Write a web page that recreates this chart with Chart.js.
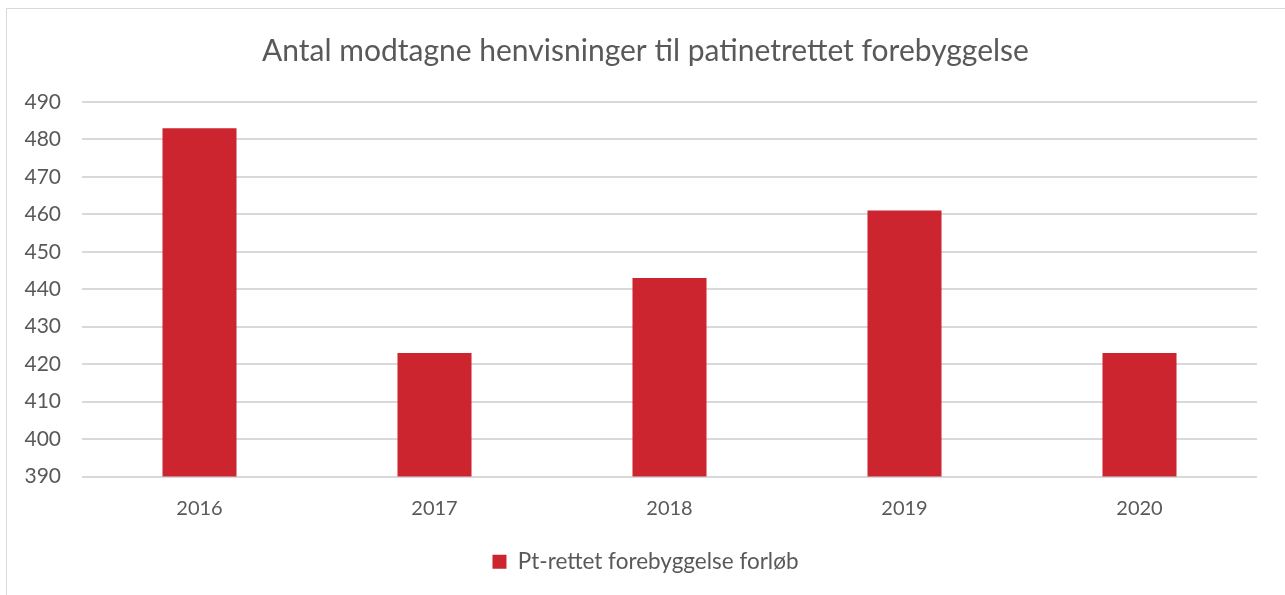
<!DOCTYPE html>
<html>
<head>
<meta charset="utf-8">
<script src="https://cdn.jsdelivr.net/npm/chart.js@4"></script>
<style>
  html, body { margin: 0; padding: 0; background: #fff; }
  #wrap { position: relative; width: 1285px; height: 595px; overflow: hidden; }
  #frame { position: absolute; left: 6px; top: 8px; width: 1300px; height: 620px; border: 1.5px solid #d9d9d9; box-sizing: border-box; }
  canvas { position: absolute; left: 0; top: 0; }
</style>
</head>
<body>
<div id="wrap">
  <div id="frame"></div>
  <canvas id="c" width="1285" height="595"></canvas>
</div>
<script>
const titleText = "Antal modtagne henvisninger til patinetrettet forebyggelse";
const categories = ["2016", "2017", "2018", "2019", "2020"];
const seriesName = "Pt-rettet forebyggelse forløb";
const seriesValues = [483, 423, 443, 461, 423];
const yMin = 390, yMax = 490, yStep = 10;

const textColor = "#595959";
const barColor = "#cc2530";
const gridColor = "#d9d9d9";

new Chart(document.getElementById("c"), {
  type: "bar",
  data: {
    labels: categories,
    datasets: [{
      label: seriesName,
      data: seriesValues,
      backgroundColor: barColor,
      borderWidth: 0,
      barPercentage: 0.63,
      categoryPercentage: 0.5
    }]
  },
  options: {
    responsive: false,
    animation: false,
    devicePixelRatio: 1,
    layout: { padding: { left: 16, right: 10, top: 0, bottom: 12 } },
    plugins: {
      title: {
        display: true,
        text: titleText,
        color: textColor,
        font: { family: "Lato", size: 30, weight: "normal" },
        padding: { top: 33, bottom: 33 }
      },
      legend: {
        position: "bottom",
        labels: {
          color: textColor,
          font: { family: "Lato", size: 22.5 },
          boxWidth: 14,
          boxHeight: 14,
          padding: 10
        }
      },
      tooltip: { enabled: false }
    },
    scales: {
      x: {
        grid: { display: false, drawTicks: false },
        border: { display: false },
        ticks: { color: textColor, font: { family: "Lato", size: 20 }, padding: 20 }
      },
      y: {
        min: yMin, max: yMax,
        afterFit(scale) { scale.width = 66; },
        ticks: { stepSize: yStep, color: textColor, font: { family: "Lato", size: 21 }, padding: 21 },
        grid: { color: gridColor, lineWidth: 2, drawTicks: false },
        border: { display: false }
      },
      yRight: {
        position: "right",
        display: true,
        min: yMin, max: yMax,
        afterFit(scale) { scale.width = 18; },
        ticks: { display: false },
        grid: { display: false, drawTicks: false },
        border: { display: false }
      }
    }
  }
});
</script>
</body>
</html>
